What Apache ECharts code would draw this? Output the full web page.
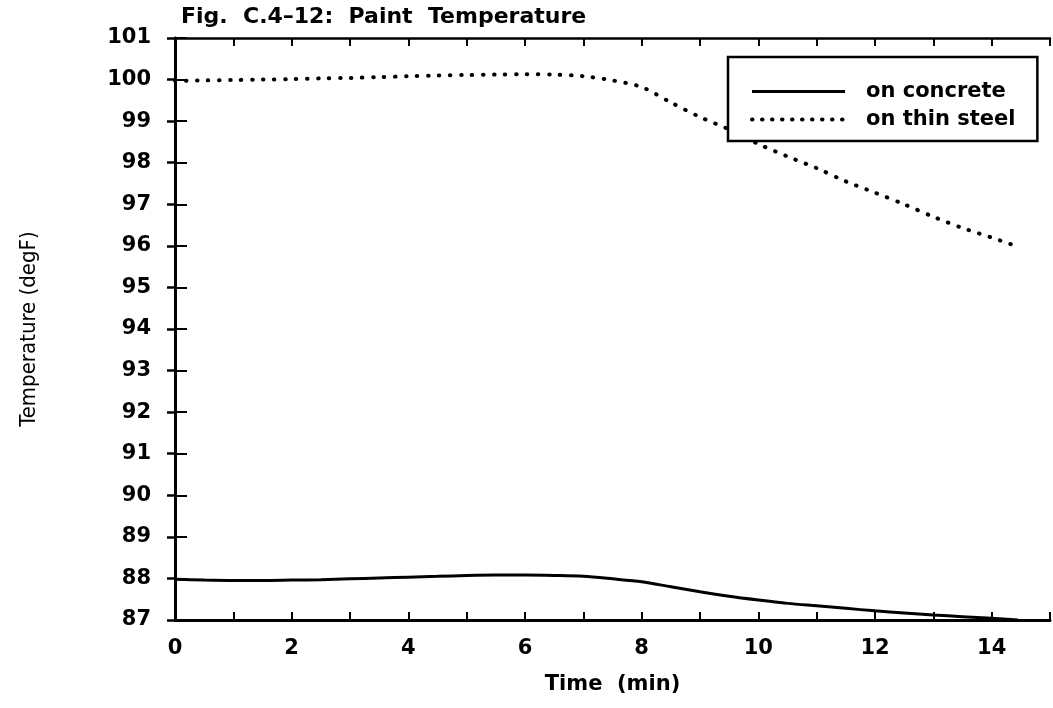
<!DOCTYPE html>
<html>
<head>
<meta charset="utf-8">
<script src="https://cdn.jsdelivr.net/npm/echarts@6/dist/echarts.min.js"></script>
<style>
html,body{margin:0;padding:0;background:#fff;}
#chart{width:1053px;height:708px;}
</style>
</head>
<body>
<div id="chart"></div>
<script>
// Time (min)
var times = [0,0.5,1,1.5,2,2.5,3,3.5,4,4.5,5,5.5,6,6.5,7,7.5,8,8.5,9,9.5,10,10.5,11,11.5,12,12.5,13,13.5,14,14.45];
// Paint temperature on concrete (degF)
var concrete = [87.98,87.96,87.95,87.95,87.96,87.97,87.99,88.01,88.03,88.05,88.07,88.08,88.08,88.07,88.05,87.99,87.92,87.80,87.68,87.57,87.48,87.40,87.34,87.28,87.22,87.17,87.12,87.08,87.04,87.00];
// Paint temperature on thin steel (degF)
var steel = [99.97,99.98,99.99,100.00,100.01,100.03,100.04,100.06,100.08,100.10,100.11,100.12,100.13,100.12,100.08,99.98,99.82,99.45,99.10,98.80,98.45,98.15,97.87,97.55,97.28,97.00,96.70,96.43,96.20,95.98];

var seriesNames = ['on concrete', 'on thin steel'];
var titleText = 'Fig.  C.4\u201312:  Paint  Temperature';
var xName = 'Time  (min)';
var yName = 'Temperature (degF)';

function pairs(xs, ys){ return xs.map(function(x,i){ return [x, ys[i]]; }); }

var chart = echarts.init(document.getElementById('chart'), null, {renderer:'canvas'});
var FONT = 'DejaVu Sans';
var solidStyle = {color:'#000', width:3, type:'solid'};
var dotStyle = {color:'#000', width:4, type:[0.5,10.5], cap:'round'};
var legendDot = {color:'#000', width:4, type:[0.5,9.5], cap:'round'};
var hiddenItem = {color:'rgba(0,0,0,0)', borderColor:'rgba(0,0,0,0)', borderWidth:0};
var axisLine = {show:true, lineStyle:{color:'#000', width:3}};
chart.setOption({
  backgroundColor:'#fff',
  animation:false,
  title:{
    text:titleText, left:176, top:1,
    textStyle:{fontFamily:FONT, fontSize:22, fontWeight:'bold', color:'#000'}
  },
  legend:{
    orient:'vertical', left:728, top:57,
    data:[
      {name:seriesNames[0], itemStyle:hiddenItem, lineStyle:solidStyle},
      {name:seriesNames[1], itemStyle:hiddenItem, lineStyle:legendDot}
    ],
    itemWidth:93, itemHeight:14, itemGap:7,
    padding:[24,22,11,22],
    borderColor:'#000', borderWidth:2.5, backgroundColor:'#fff',
    textStyle:{fontFamily:FONT, fontSize:21, fontWeight:'bold', color:'#000', padding:[0,0,0,16]}
  },
  grid:{left:175, top:38, width:880, height:582},
  xAxis:[{
    type:'value', min:0, max:15, interval:1, position:'bottom',
    axisLine:axisLine,
    axisTick:{show:true, inside:true, length:8, lineStyle:{color:'#000', width:2}},
    axisLabel:{margin:18, fontFamily:FONT, fontSize:21, fontWeight:'bold', color:'#000',
      formatter:function(v){ return (v % 2 === 0 && v < 15) ? String(v) : ''; }},
    splitLine:{show:false},
    name:xName, nameLocation:'middle', nameGap:54,
    nameTextStyle:{fontFamily:FONT, fontSize:21, fontWeight:'bold', color:'#000'}
  },{
    type:'value', min:0, max:15, interval:1, position:'top',
    axisLine:{show:true, lineStyle:{color:'#000', width:2.5}},
    axisTick:{show:true, inside:true, length:8, lineStyle:{color:'#000', width:2}},
    axisLabel:{show:false}, splitLine:{show:false}
  }],
  yAxis:[{
    type:'value', min:87, max:101, interval:1, position:'left',
    axisLine:axisLine,
    axisTick:{show:true, inside:true, length:12, lineStyle:{color:'#000', width:2}},
    axisLabel:{margin:24, fontFamily:FONT, fontSize:21, fontWeight:'bold', color:'#000'},
    splitLine:{show:false},
    name:yName, nameLocation:'middle', nameGap:135,
    nameTextStyle:{fontFamily:'DejaVu Sans Condensed', fontSize:22, color:'#000'}
  },{
    type:'value', min:87, max:101, interval:1, position:'right',
    axisLine:{show:true, lineStyle:{color:'#000', width:2.5}},
    axisTick:{show:true, inside:true, length:8, lineStyle:{color:'#000', width:2.5}},
    axisLabel:{show:false}, splitLine:{show:false}
  }],
  series:[{
    name:seriesNames[0], type:'line', xAxisIndex:0, yAxisIndex:0,
    data:pairs(times, concrete), symbol:'none', smooth:0.3,
    lineStyle:solidStyle, itemStyle:{color:'#000'}
  },{
    name:seriesNames[1], type:'line', xAxisIndex:0, yAxisIndex:0,
    data:pairs(times, steel), symbol:'none', smooth:0.3,
    lineStyle:dotStyle, itemStyle:{color:'#000'}
  }]
});
</script>
</body>
</html>
